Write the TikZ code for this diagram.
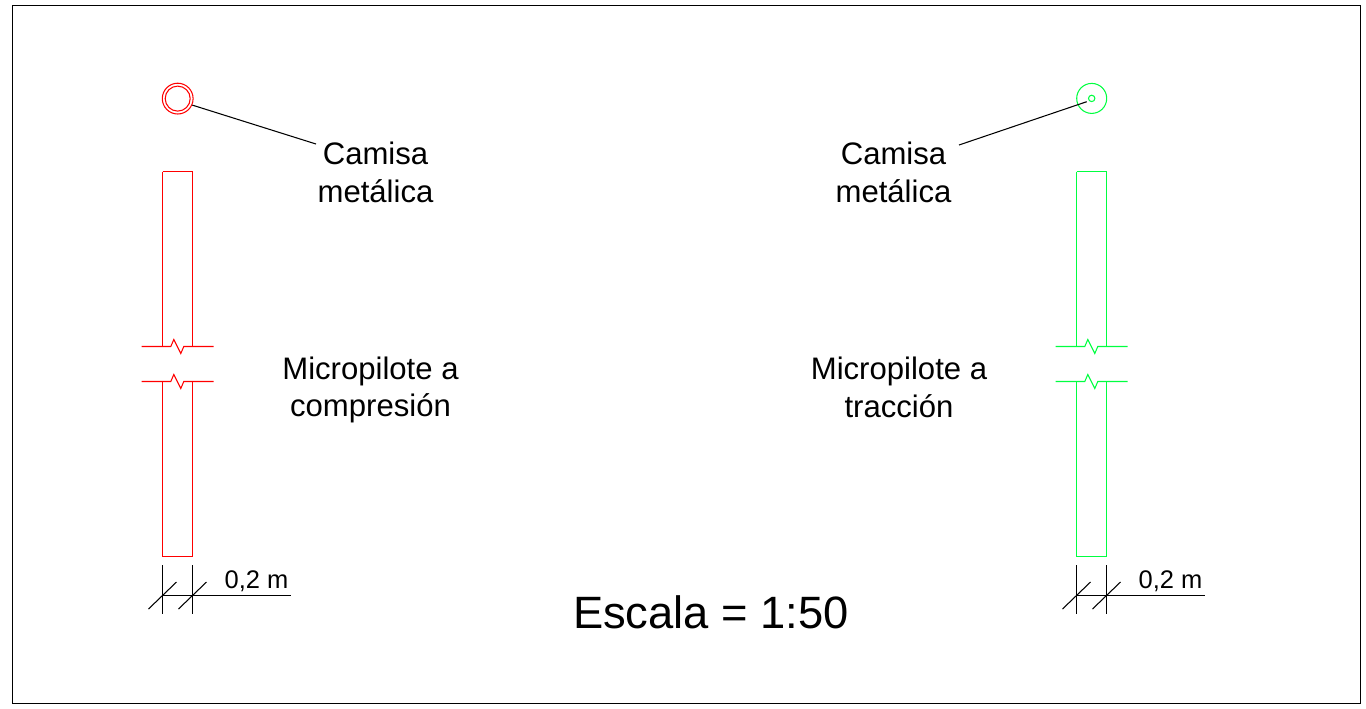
\documentclass[tikz,border=0pt]{standalone}
\usepackage{fontspec}
\setmainfont{Liberation Sans}
\usepackage{tikz}
\definecolor{P}{RGB}{255,0,0}
\definecolor{Q}{RGB}{0,255,64}
\tikzset{
  thinline/.style={line width=0.6pt},
  label/.style={align=center,inner sep=0pt,font=\fontsize{17.7}{21.5}\selectfont},
  dimlabel/.style={inner sep=0pt,anchor=base,font=\fontsize{14.5}{17}\selectfont},
  titlelabel/.style={inner sep=0pt,anchor=base,font=\fontsize{25.8}{30}\selectfont},
  ring/.style={draw=#1,circle,thinline,inner sep=0pt}
}
\newcommand{\drawpile}[2]{
    \draw[thinline,#2] (#1,171.5)--++(0,175);
    \draw[thinline,#2] (#1+30,171.5)--++(0,175);
    \draw[thinline,#2] (#1,171.5)--++(30,0);
    \draw[thinline,#2] (#1,381.5)--++(0,175)--++(30,0)--++(0,-175);
    \draw[thinline,#2] (#1-21,346.5)--++(29.3,0)--++(3,-7)--++(7,14)--++(3,-7)--++(29.7,0);
    \draw[thinline,#2] (#1-21,381.5)--++(29.3,0)--++(3,-7)--++(7,14)--++(3,-7)--++(29.7,0);
}
\newcommand{\drawdim}[1]{
    \foreach \dx in {0,30}{
      \draw[thinline] (#1+\dx,565)--++(0,49);
      \draw[thinline] (#1+\dx-14,609)--++(28,-27);
    }
    \draw[thinline] (#1,595.5)--++(128,0);
    \node[dimlabel] at (#1+94,588) {0,2 m};
}

\begin{document}
\begin{tikzpicture}[x=0.02cm,y=-0.02cm]
\useasboundingbox (0,0) rectangle (1366,708);
\draw[thinline] (12.5,5.5) rectangle (1360.5,703.5);
%compression pile
\node[ring=P,minimum size=30.8*0.02cm] (outerL) at (177.7,98.6) {};
\node[ring=P,minimum size=25*0.02cm] (innerL) at (177.7,98.6) {};
\drawpile{162.5}{P}
\drawdim{162.5}
\node[label] (camisaL) at (375.5,172) {Camisa\\metálica};
\node[label] (pileL) at (370.5,390) {Micropilote a\\compresión};
\coordinate (leaderL) at (316,144);
\draw[thinline] (outerL.-24)--(leaderL);
%traction pile
\node[ring=Q,minimum size=30*0.02cm] (outerR) at (1091.7,98.4) {};
\node[ring=Q,minimum size=6.4*0.02cm] (innerR) at (1091.7,98.4) {};
\drawpile{1076.5}{Q}
\drawdim{1076.5}
\node[label] (camisaR) at (893.5,172) {Camisa\\metálica};
\node[label] (pileR) at (899,387) {Micropilote a\\tracción};
\coordinate (leaderR) at (959,145);
\coordinate (tipR) at (1086.7,101.7);
\draw[thinline] (tipR)--(leaderR);
\node[titlelabel] (scale) at (711,628) {Escala = 1:50};
\end{tikzpicture}
\end{document}
